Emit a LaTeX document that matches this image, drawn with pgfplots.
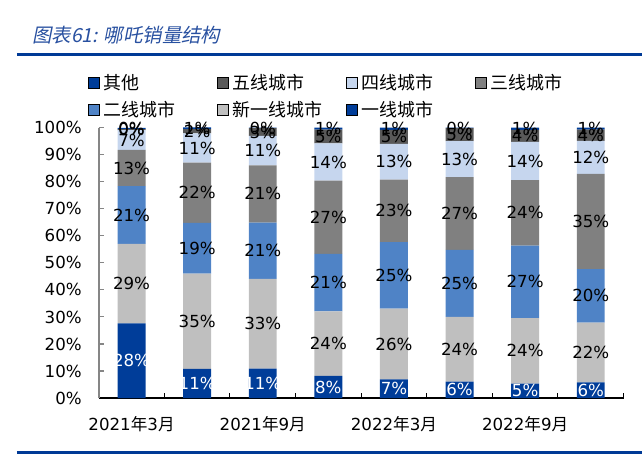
\documentclass[border=0pt]{standalone}
\usepackage{fontspec}
\setmainfont{DejaVu Sans}
\newfontfamily\cjk{Noto Sans CJK SC}
\newfontfamily\cjktitle[FakeSlant=0.2]{Noto Sans CJK SC}
\usepackage{pgfplots}
\usepackage{pgfplotstable}
\pgfplotsset{compat=1.18}

\definecolor{cYX}{RGB}{0,61,153}
\definecolor{cXYX}{RGB}{191,191,191}
\definecolor{cEX}{RGB}{79,131,198}
\definecolor{cSX}{RGB}{128,128,128}
\definecolor{cFX}{RGB}{198,214,238}
\definecolor{cWX}{RGB}{89,89,89}
\definecolor{cQT}{RGB}{0,61,153}
\definecolor{cLine}{RGB}{0,58,150}
\definecolor{cTitle}{RGB}{40,80,160}
\definecolor{cAxis}{RGB}{134,134,134}

% columns: x, 一线, 新一线, 二线, 三线, 四线, 五线, 其他
\pgfplotstableread{
x yx   xyx  ex   sx   fx   wx  qt
0 27.6 29.4 21.4 13.4 7.3  0.4 0.4
1 10.8 35.2 18.8 22.3 10.8 1.6 0.6
2 10.9 33.2 20.8 21.2 10.9 2.8 0.2
3 8.2  23.9 21.2 27.1 13.8 5.1 0.7
4 6.9  26.2 24.6 23.1 13.2 5.2 0.8
5 6.1  23.9 24.8 26.9 13.3 4.8 0.2
6 5.3  24.3 26.8 24.2 14.2 4.4 0.8
7 5.8  22.1 19.8 35.2 12.2 4.2 0.7
}\data

\newcommand\lblfont{\fontsize{12.5}{14}\selectfont}

\begin{document}
\begin{tikzpicture}
\path (0pt,0pt) rectangle (482.25pt,342pt);
\node[anchor=west, inner sep=0pt, text=cTitle, font=\cjktitle\fontsize{14.6}{16}\selectfont] at (24pt,315.75pt) {图表61: 哪吒销量结构};
\draw[cLine, line width=2.25pt] (12.75pt,300.75pt) -- (482.25pt,300.75pt);
\draw[cLine, line width=2.25pt] (12.75pt,1.5pt) -- (482.25pt,1.5pt);

\pgfplotsset{common/.style={
  scale only axis, width=394.5pt, height=203.25pt,
  at={(74.25pt,42.75pt)}, anchor=south west,
  xmin=-0.5, xmax=7.5, ymin=0, ymax=100,
  /pgf/number format/assume math mode=true,
}}

\begin{axis}[common,
  ybar stacked, bar width=21pt,
  axis x line*=bottom, axis y line*=left,
  x axis line style={black, line width=0.9pt},
  y axis line style={cAxis, line width=1.1pt},
  tick align=inside,
  xtick={0,2,4,6},
  xticklabels={2021{\cjk 年}3{\cjk 月}, 2021{\cjk 年}9{\cjk 月}, 2022{\cjk 年}3{\cjk 月}, 2022{\cjk 年}9{\cjk 月}},
  major x tick style={draw=none},
  minor xtick={0.5,1.5,...,7.5},
  minor x tick style={black, line width=0.8pt},
  minor tick length=3.75pt,
  ytick={0,10,...,100},
  yticklabel={\pgfmathprintnumber{\tick}\%},
  major tick length=3.75pt,
  ytick style={cAxis, line width=0.8pt},
  ticklabel style={font=\lblfont},
  yticklabel style={xshift=-9.3pt},
  xticklabel style={yshift=-10pt},
]
\addplot[fill=cYX, draw=none] table[x=x,y=yx]{\data};
\addplot[fill=cXYX, draw=none] table[x=x,y=xyx]{\data};
\addplot[fill=cEX, draw=none] table[x=x,y=ex]{\data};
\addplot[fill=cSX, draw=none] table[x=x,y=sx]{\data};
\addplot[fill=cFX, draw=none] table[x=x,y=fx]{\data};
\addplot[fill=cWX, draw=none] table[x=x,y=wx]{\data};
\addplot[fill=cQT, draw=none] table[x=x,y=qt]{\data};
\end{axis}

\begin{axis}[common, hide axis,
  legend columns=4,
  legend style={at={(-0.021,1.197)}, anchor=north west, draw=none, fill=none,
     inner sep=0pt, outer sep=0pt, nodes={inner sep=0pt},
     font=\cjk\fontsize{13.5}{15}\selectfont, row sep=7pt,
     /tikz/every odd column/.append style={column sep=3pt}},
  legend image code/.code={\fill[#1] (0pt,-4.125pt) rectangle (8.25pt,4.125pt);},
  nodes near coords={\pgfmathprintnumber[fixed,precision=0]{\pgfplotspointmeta}\%},
  nodes near coords align=center,
  every node near coord/.append style={font=\lblfont, inner sep=0pt},
  point meta=explicit,
]
\addlegendimage{fill=cQT}\addlegendentry{\makebox[85.5pt][l]{其他}}
\addlegendimage{fill=cWX}\addlegendentry{\makebox[85.5pt][l]{五线城市}}
\addlegendimage{fill=cFX}\addlegendentry{\makebox[85.5pt][l]{四线城市}}
\addlegendimage{fill=cSX}\addlegendentry{\makebox[85.5pt][l]{三线城市}}
\addlegendimage{fill=cEX}\addlegendentry{\makebox[85.5pt][l]{二线城市}}
\addlegendimage{fill=cXYX}\addlegendentry{\makebox[85.5pt][l]{新一线城市}}
\addlegendimage{fill=cYX}\addlegendentry{\makebox[85.5pt][l]{一线城市}}

\addplot[draw=none, mark=none, forget plot, every node near coord/.append style={text=white}]
  table[x=x, y expr=\thisrow{yx}/2, meta=yx]{\data};
\addplot[draw=none, mark=none, forget plot]
  table[x=x, y expr=\thisrow{yx}+\thisrow{xyx}/2, meta=xyx]{\data};
\addplot[draw=none, mark=none, forget plot]
  table[x=x, y expr=\thisrow{yx}+\thisrow{xyx}+\thisrow{ex}/2, meta=ex]{\data};
\addplot[draw=none, mark=none, forget plot]
  table[x=x, y expr=\thisrow{yx}+\thisrow{xyx}+\thisrow{ex}+\thisrow{sx}/2, meta=sx]{\data};
\addplot[draw=none, mark=none, forget plot]
  table[x=x, y expr=\thisrow{yx}+\thisrow{xyx}+\thisrow{ex}+\thisrow{sx}+\thisrow{fx}/2, meta=fx]{\data};
\addplot[draw=none, mark=none, forget plot]
  table[x=x, y expr=\thisrow{yx}+\thisrow{xyx}+\thisrow{ex}+\thisrow{sx}+\thisrow{fx}+\thisrow{wx}/2, meta=wx]{\data};
\addplot[draw=none, mark=none, forget plot]
  table[x=x, y expr=\thisrow{yx}+\thisrow{xyx}+\thisrow{ex}+\thisrow{sx}+\thisrow{fx}+\thisrow{wx}+\thisrow{qt}/2, meta=qt]{\data};
\end{axis}
\end{tikzpicture}
\end{document}
